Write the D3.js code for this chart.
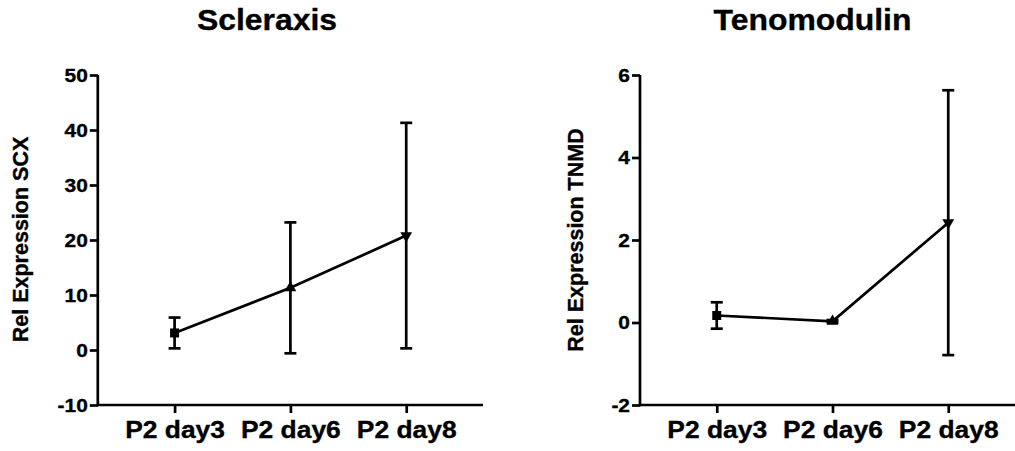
<!DOCTYPE html>
<html>
<head>
<meta charset="utf-8">
<script src="https://cdn.jsdelivr.net/npm/d3@7"></script>
<style>
  html, body { margin: 0; padding: 0; background: #fff; }
  svg { display: block; }
  text { font-family: "Liberation Sans", Arial, sans-serif; font-weight: bold; fill: #000; stroke: #000; stroke-width: 0.35px; }
</style>
</head>
<body>
<svg id="chart" width="1015" height="451"></svg>
<script>
const categories = ["P2 day3", "P2 day6", "P2 day8"];
const scxMean = [3.1, 11.3, 20.8];
const scxErr = [2.8, 11.9, 20.5];
const scxTicks = [-10, 0, 10, 20, 30, 40, 50];
const tnmdMean = [0.17, 0.03, 2.42];
const tnmdErr = [0.32, 0.03, 3.21];
const tnmdTicks = [-2, 0, 2, 4, 6];
const markers = ["square", "triangleUp", "triangleDown"];

const svg = d3.select("#chart");
const STRETCH = 1.1;
const LW = 2.7;

function panel(opts) {
  const g = svg.append("g");
  const x = d3.scalePoint().domain(categories).range([opts.x0, opts.x1]).padding(0.663);
  const y = d3.scaleLinear().domain(opts.domain).range([405, 75]);

  g.append("text")
    .attr("transform", `translate(${opts.titleX},30) scale(${STRETCH},1)`)
    .attr("text-anchor", "middle")
    .style("font-size", "29px")
    .text(opts.title);

  g.append("text")
    .attr("transform", `translate(${opts.ylabX},${opts.ylabY}) rotate(-90)`)
    .attr("text-anchor", "middle")
    .style("font-size", "21.5px")
    .text(opts.ylabel);

  const ya = g.append("g")
    .attr("transform", `translate(${opts.x0},0)`)
    .call(d3.axisLeft(y).tickValues(opts.ticks).tickFormat(d => String(d)).tickSize(8).tickSizeOuter(0));
  ya.select(".domain").attr("stroke", "#000").attr("stroke-width", LW).attr("d", `M0,${y.range()[0] + LW / 2}V${y.range()[1]}`);
  ya.selectAll(".tick line").attr("stroke", "#000").attr("stroke-width", LW);
  ya.selectAll(".tick text")
    .attr("x", null)
    .attr("transform", `translate(-10,0) scale(${STRETCH},1)`)
    .style("font-size", "19px")
    .style("font-family", "'Liberation Sans', Arial, sans-serif")
    .style("font-weight", "bold")
    .attr("fill", "#000");

  const xa = g.append("g")
    .attr("transform", `translate(0,405)`)
    .call(d3.axisBottom(x).tickSize(8).tickSizeOuter(0).tickPadding(8));
  xa.select(".domain").attr("stroke", "#000").attr("stroke-width", LW).attr("d", `M${opts.x0 - LW / 2},0H${opts.x1}`);
  xa.selectAll(".tick line").attr("stroke", "#000").attr("stroke-width", LW);
  xa.selectAll(".tick text")
    .each(function() {
      const t = d3.select(this);
      const yy = t.attr("y");
      t.attr("y", null).attr("transform", `translate(0,${yy}) scale(${STRETCH},1)`);
    })
    .style("font-size", "24px")
    .style("font-family", "'Liberation Sans', Arial, sans-serif")
    .style("font-weight", "bold")
    .attr("fill", "#000");

  const data = categories.map((c, i) => ({ c, m: opts.mean[i], e: opts.err[i], mk: markers[i] }));

  const eb = g.append("g").attr("stroke", "#000").attr("stroke-width", LW).attr("fill", "none");
  data.forEach(d => {
    const cx = x(d.c);
    eb.append("line").attr("x1", cx).attr("x2", cx).attr("y1", y(d.m + d.e)).attr("y2", y(d.m - d.e));
    eb.append("line").attr("x1", cx - 6).attr("x2", cx + 6).attr("y1", y(d.m + d.e)).attr("y2", y(d.m + d.e));
    eb.append("line").attr("x1", cx - 6).attr("x2", cx + 6).attr("y1", y(d.m - d.e)).attr("y2", y(d.m - d.e));
  });

  g.append("path")
    .datum(data)
    .attr("fill", "none")
    .attr("stroke", "#000")
    .attr("stroke-width", LW)
    .attr("d", d3.line().x(d => x(d.c)).y(d => y(d.m)));

  data.forEach(d => {
    const cx = x(d.c), cy = y(d.m);
    let sym, rot = 0, size;
    if (d.mk === "square") { sym = d3.symbolSquare; size = 81; }
    else { sym = d3.symbolTriangle; size = 60; if (d.mk === "triangleDown") rot = 180; }
    g.append("path")
      .attr("d", d3.symbol().type(sym).size(size)())
      .attr("transform", `translate(${cx},${cy}) rotate(${rot})`)
      .attr("fill", "#000");
  });
}

panel({
  x0: 97.8, x1: 483, domain: [-10, 50], ticks: scxTicks,
  mean: scxMean, err: scxErr,
  title: "Scleraxis", titleX: 267,
  ylabel: "Rel Expression SCX", ylabX: 28, ylabY: 239.5
});

panel({
  x0: 640, x1: 1025, domain: [-2, 6], ticks: tnmdTicks,
  mean: tnmdMean, err: tnmdErr,
  title: "Tenomodulin", titleX: 812.5,
  ylabel: "Rel Expression TNMD", ylabX: 583, ylabY: 240
});
</script>
</body>
</html>
